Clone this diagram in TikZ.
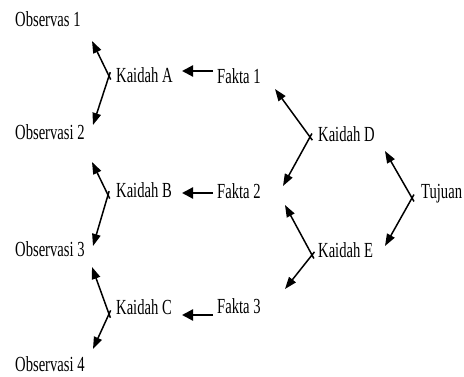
\documentclass[tikz,border=0pt]{standalone}
\usepackage{fontspec}
\setmainfont{Liberation Serif}[FakeStretch=0.68]
\usetikzlibrary{arrows.meta,calc}
\begin{document}
\begin{tikzpicture}[x=1pt,y=-1pt,
  lbl/.style={anchor=base west,inner sep=0pt,font=\fontsize{21.5}{24}\selectfont},
  diag/.style={line width=1.5pt,-{Triangle[length=12pt,width=8.5pt]}},
  horiz/.style={line width=2.2pt,-{Triangle[length=11pt,width=11pt]}}]
\useasboundingbox[fill=white] (0,0) rectangle (464,377);
% text nodes
\node[lbl] (o1) at (15,27) {Observas 1};
\node[lbl] (o2) at (15,140) {Observasi 2};
\node[lbl] (o3) at (15,257) {Observasi 3};
\node[lbl] (o4) at (15,372) {Observasi 4};
\node[lbl] (kA) at (116,83) {Kaidah A};
\node[lbl] (kB) at (116,198) {Kaidah B};
\node[lbl] (kC) at (116,315) {Kaidah C};
\node[lbl] (f1) at (217,84) {Fakta 1};
\node[lbl] (f2) at (217,199) {Fakta 2};
\node[lbl] (f3) at (217,313) {Fakta 3};
\node[lbl] (kD) at (318,142) {Kaidah D};
\node[lbl] (kE) at (318,258) {Kaidah E};
\node[lbl] (tj) at (421,199) {Tujuan};
% junctions and tips
\coordinate (jA) at (109,76);
\coordinate (aU) at (92,41);  \coordinate (aD) at (93,125);
\coordinate (jB) at (108,195);
\coordinate (bU) at (92,162); \coordinate (bD) at (93,246);
\coordinate (jC) at (109,314);
\coordinate (cU) at (92,267); \coordinate (cD) at (93,349);
\coordinate (jD) at (310,137);
\coordinate (dU) at (275,89); \coordinate (dD) at (283,186);
\coordinate (jE) at (312,255);
\coordinate (eU) at (285,205); \coordinate (eD) at (285,289);
\coordinate (jT) at (412,198);
\coordinate (tU) at (385,151); \coordinate (tD) at (385,246);
% horizontal arrow ends
\coordinate (h1a) at (213,71);  \coordinate (h1b) at (182,71);
\coordinate (h2a) at (213,193); \coordinate (h2b) at (182,193);
\coordinate (h3a) at (213,315); \coordinate (h3b) at (182,315);
% diagonal arrows
\foreach \j/\u/\d in {jA/aU/aD, jB/bU/bD, jC/cU/cD, jD/dU/dD, jE/eU/eD, jT/tU/tD}{
  \draw[diag] ($(\j)!-4pt!(\u)$) -- (\u);
  \draw[diag] ($(\j)!-4pt!(\d)$) -- (\d);
}
% horizontal arrows
\draw[horiz] (h1a) -- (h1b);
\draw[horiz] (h2a) -- (h2b);
\draw[horiz] (h3a) -- (h3b);
\end{tikzpicture}
\end{document}
